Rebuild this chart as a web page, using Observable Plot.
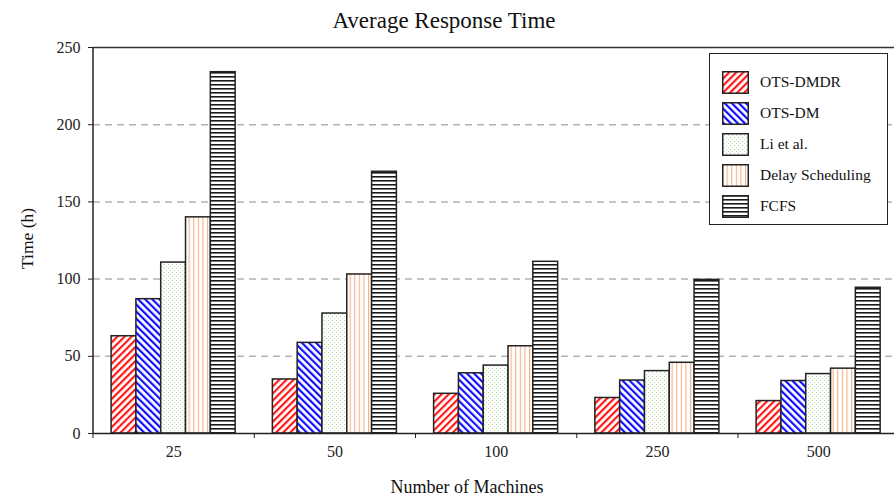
<!DOCTYPE html>
<html>
<head>
<meta charset="utf-8">
<script src="https://cdn.jsdelivr.net/npm/d3@7"></script>
<script src="https://cdn.jsdelivr.net/npm/@observablehq/plot@0.6"></script>
<style>
  html, body { margin: 0; padding: 0; background: #fff; }
  #wrap { position: relative; width: 894px; height: 496px; overflow: hidden; }
  #legend {
    position: absolute; left: 709px; top: 53px; width: 179px; height: 172px;
    border: 1.5px solid #222; background: #fff; box-sizing: border-box;
    font-family: "Liberation Serif", "Times New Roman", serif; font-size: 15.5px; color: #111;
  }
  .item { position: absolute; left: 12px; height: 22px; display: flex; align-items: center; }
  .item svg { margin-right: 11px; }
</style>
</head>
<body>
<div id="wrap"><div id="chart"></div><div id="legend"></div></div>
<script>
const machines = ["25", "50", "100", "250", "500"];
const series = ["OTS-DMDR", "OTS-DM", "Li et al.", "Delay Scheduling", "FCFS"];
const otsDmdr = [63, 35, 25.7, 23, 21];
const otsDm = [87, 58.7, 39, 34.3, 34];
const liEtAl = [110.7, 77.7, 44, 40.4, 38.5];
const delayScheduling = [140, 103, 56.5, 45.8, 42];
const fcfs = [234, 169.5, 111.2, 99.5, 94.4];
const yTicks = [0, 50, 100, 150, 200, 250];
const gridTicks = [50, 100, 150, 200];

const values = [otsDmdr, otsDm, liEtAl, delayScheduling, fcfs];
const patternIds = ["p-red", "p-blue", "p-green", "p-orange", "p-black"];

// global pattern defs
const defsSvg = d3.select("body").append("svg").attr("width", 0).attr("height", 0)
  .style("position", "absolute");
const defs = defsSvg.append("defs");
function stripe(id, color, angle, period, thick) {
  const p = defs.append("pattern").attr("id", id).attr("patternUnits", "userSpaceOnUse")
    .attr("width", period).attr("height", period).attr("patternTransform", `rotate(${angle})`);
  p.append("rect").attr("width", period).attr("height", period).attr("fill", "#fff");
  p.append("rect").attr("x", 0).attr("width", thick).attr("height", period).attr("fill", color);
}
stripe("p-red", "#ff1a1a", 45, 5, 2.2);
stripe("p-blue", "#1010ff", -45, 5, 2.2);
stripe("p-orange", "#f4b183", 0, 4.6, 1.1);
stripe("p-black", "#1a1a1a", 90, 4, 1.6);
{
  const p = defs.append("pattern").attr("id", "p-green").attr("patternUnits", "userSpaceOnUse")
    .attr("width", 4).attr("height", 4);
  p.append("rect").attr("width", 4).attr("height", 4).attr("fill", "#fff");
  p.append("rect").attr("x", 0).attr("y", 0).attr("width", 1).attr("height", 1).attr("fill", "#a8d68c");
  p.append("rect").attr("x", 2).attr("y", 2).attr("width", 1).attr("height", 1).attr("fill", "#c3e3ae");
}

const nS = series.length;
const outer = 0.75;            // band outer padding in bar units
const step = 1 / (nS + 2 * outer);
const rows = [];
machines.forEach((m, g) => {
  series.forEach((s, i) => {
    rows.push({machine: m, series: s, si: i, value: values[i][g],
      x1: g + (outer + i) * step, x2: g + (outer + i + 1) * step});
  });
});
const centers = machines.map((m, g) => g + 0.5);
const bounds = d3.range(machines.length + 1);

const serif = "'Liberation Serif', 'Times New Roman', serif";
const chart = Plot.plot({
  width: 894,
  height: 496,
  marginTop: 47,
  marginBottom: 63,
  marginLeft: 93,
  marginRight: 0,
  style: {fontFamily: serif, fontSize: "16px", color: "#222", background: "#fff"},
  x: {domain: [0, 5], range: [92.5, 898.75]},
  y: {domain: [0, 250], range: [433, 47]},
  marks: [
    Plot.ruleY(gridTicks, {stroke: "#b3b3b3", strokeWidth: 1.5, strokeDasharray: "7,5"}),
    ...series.map((s, i) => Plot.rectY(rows.filter(d => d.si === i), {
      x1: "x1", x2: "x2", y1: 0, y2: "value",
      fill: `url(#${patternIds[i]})`, stroke: "#222", strokeWidth: 1.5
    })),
    Plot.ruleY([250], {stroke: "#333", strokeWidth: 1.5}),
    Plot.axisY({ticks: yTicks, tickSize: 5, tickPadding: 8, label: null, stroke: "#222", fontSize: 16}),
    Plot.ruleX([0], {stroke: "#222", strokeWidth: 1.5}),
    Plot.axisX({ticks: bounds, tickSize: 5, tickFormat: () => "", label: null, stroke: "#222"}),
    Plot.axisX({ticks: centers, tickSize: 0, tickPadding: 12, tickFormat: d => machines[d - 0.5], label: null, fontSize: 16}),
    Plot.ruleY([0], {stroke: "#222", strokeWidth: 1.5}),
    Plot.text(["Average Response Time"], {frameAnchor: "top", dy: -36, fontSize: 23, fill: "#111", dx: -50}),
    Plot.text(["Number of Machines"], {frameAnchor: "bottom", dy: 59, fontSize: 18, fill: "#111", dx: -27}),
    Plot.text(["Time (h)"], {frameAnchor: "left", textAnchor: "middle", dx: -66, dy: -2, rotate: -90, fontSize: 17.5, fill: "#111"})
  ]
});
document.getElementById("chart").append(chart);

// legend
const legend = d3.select("#legend");
series.forEach((s, i) => {
  const item = legend.append("div").attr("class", "item").style("top", `${17 + i * 31}px`);
  const sw = item.append("svg").attr("width", 27).attr("height", 23);
  sw.append("rect").attr("x", 0.75).attr("y", 0.75).attr("width", 25.5).attr("height", 21.5)
    .attr("fill", `url(#${patternIds[i]})`).attr("stroke", "#222").attr("stroke-width", 1.5);
  item.append("span").text(s);
});
</script>
</body>
</html>
